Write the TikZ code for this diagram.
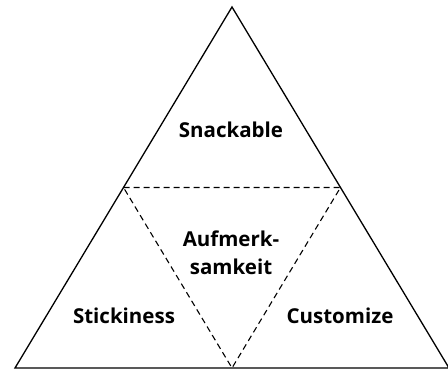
\documentclass[tikz,border=0pt]{standalone}
\usepackage{fontspec}
\setmainfont{Open Sans}
\usetikzlibrary{calc}
\tikzset{
  outer/.style={draw=black, line width=1.3pt, line join=miter},
  inner/.style={draw=black, line width=1.1pt, dash pattern=on 6pt off 4pt},
  lbl/.style={font=\fontsize{20.5}{28}\selectfont\bfseries, align=center, inner sep=0pt}
}
\begin{document}
\begin{tikzpicture}[x=1pt,y=-1pt]
\useasboundingbox (0,0) rectangle (448,369);
\coordinate (A) at (232,7);
\coordinate (L) at (15,368);
\coordinate (R) at (449,368);
\coordinate (ML) at ($ (A)!0.5!(L) $);
\coordinate (MR) at ($ (A)!0.5!(R) $);
\coordinate (MB) at ($ (L)!0.5!(R) $);
\draw[outer] (A) -- (L) -- (R) -- cycle;
\draw[inner] (ML) -- (MR) -- (MB) -- cycle;
\node[lbl] (snack) at (231,130) {Snackable};
\node[lbl] (auf) at (231,253) {Aufmerk-\\samkeit};
\node[lbl] (stick) at (124,316) {Stickiness};
\node[lbl] (cust) at (340,316) {Customize};
\end{tikzpicture}
\end{document}
